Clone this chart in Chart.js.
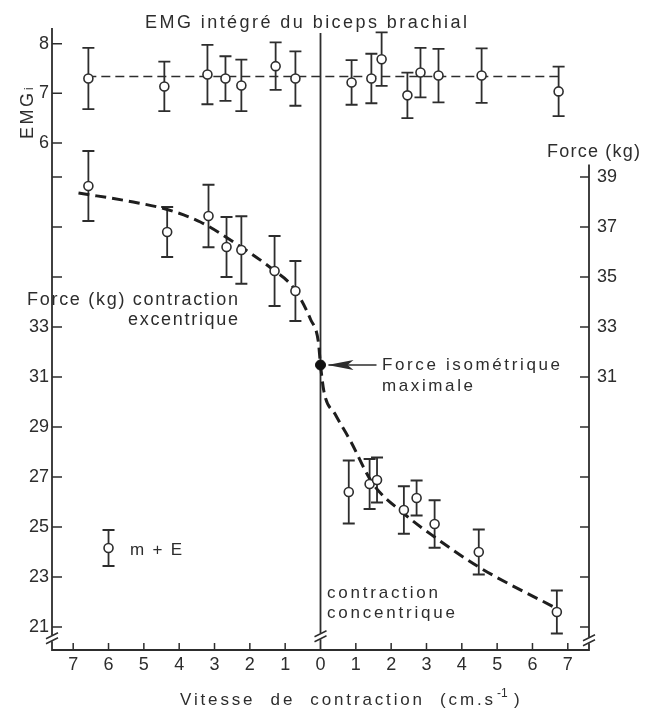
<!DOCTYPE html>
<html lang="fr">
<head>
<meta charset="utf-8">
<title>EMG intégré du biceps brachial</title>
<script src="https://cdn.jsdelivr.net/npm/chart.js@4.4.1/dist/chart.umd.min.js"></script>
<style>
  html, body { margin: 0; padding: 0; background: #fff; }
  #graphe { display: block; }
</style>
</head>
<body>
<canvas id="graphe" width="649" height="711"></canvas>
<script>
// vitesses : negatif = contraction excentrique, positif = concentrique
const emgVitesse = [-6.57, -4.42, -3.2, -2.69, -2.24, -1.27, -0.71, 0.88, 1.44, 1.73, 2.46, 2.83, 3.34, 4.56, 6.74];
const emgMoyen   = [7.30, 7.14, 7.38, 7.30, 7.16, 7.55, 7.30, 7.22, 7.30, 7.69, 6.96, 7.42, 7.36, 7.36, 7.04];
const emgErreur  = [0.62, 0.50, 0.60, 0.45, 0.52, 0.48, 0.55, 0.45, 0.50, 0.54, 0.46, 0.50, 0.54, 0.55, 0.50];
const emgDroiteX = [-6.6, 6.75];
const emgDroiteY = [7.34, 7.34];

const forceVitesse = [-6.57, -4.34, -3.17, -2.66, -2.24, -1.3, -0.71, 0.8, 1.39, 1.6, 2.36, 2.72, 3.23, 4.48, 6.69];
const forceMoyenne = [38.64, 36.8, 37.44, 36.2, 36.08, 35.24, 34.44, 26.4, 26.72, 26.88, 25.68, 26.16, 25.12, 24.0, 21.6];
const forceErreur  = [1.4, 1.0, 1.25, 1.2, 1.35, 1.4, 1.2, 1.26, 1.0, 0.9, 0.95, 0.7, 0.95, 0.9, 0.86];

const isoVitesse = [0];
const isoForce = [31.48];

// courbe tracee a la main sur la figure
const courbeX = [-6.85, -5.3, -4.34, -3.4, -2.46, -1.33, -0.76, -0.28, -0.06, 0, 0.1, 0.42, 0.85, 1.47, 2.35, 3.23, 4.48, 6.6];
const courbeY = [38.36, 38.0, 37.7, 37.2, 36.4, 35.28, 34.56, 33.3, 32.4, 31.48, 30.4, 29.5, 28.44, 26.76, 25.55, 24.6, 23.4, 21.8];

const legendeX = [-6];
const legendeY = [24.16];
const legendeErreur = [0.72];

const vitesseTicks = [-7, -6, -5, -4, -3, -2, -1, 0, 1, 2, 3, 4, 5, 6, 7];
const forceTicks = [21, 23, 25, 27, 29, 31, 33, 35, 37, 39];
const forceGaucheLabels = [21, 23, 25, 27, 29, 31, 33];
const forceDroiteLabels = [31, 33, 35, 37, 39];
const emgTicks = [6, 7, 8];

const forceMin = 20.08, forceMax = 44.96;
const emgMin = -4.24, emgMax = 8.32;

const encre = '#2d2d2d';
const police = '"Liberation Sans", Arial, Helvetica, sans-serif';

const points = (xs, ys) => xs.map((x, i) => ({ x, y: ys[i] }));
const emgEnForce = e => forceMin + (e - emgMin) * (forceMax - forceMin) / (emgMax - emgMin);

function texte(ctx, str, x, y, size, largeur) {
  ctx.font = size + 'px ' + police;
  if ('letterSpacing' in ctx) ctx.letterSpacing = '0px';
  let ls = 0;
  if (largeur && str.length > 1) ls = (largeur - ctx.measureText(str).width) / (str.length - 1);
  if ('letterSpacing' in ctx) {
    ctx.letterSpacing = ls + 'px';
    ctx.fillText(str, x, y);
    ctx.letterSpacing = '0px';
  } else {
    let cx = x;
    for (const c of str) { ctx.fillText(c, cx, y); cx += ctx.measureText(c).width + ls; }
  }
}

function cassure(ctx, x, y) {
  ctx.save();
  ctx.fillStyle = '#fff';
  ctx.fillRect(x - 3, y - 3, 6, 6);
  ctx.strokeStyle = encre;
  ctx.lineWidth = 1.4;
  [-2.5, 2.5].forEach(d => {
    ctx.beginPath();
    ctx.moveTo(x - 6, y + d + 3);
    ctx.lineTo(x + 6, y + d - 3);
    ctx.stroke();
  });
  ctx.restore();
}

const barresErreur = {
  id: 'barresErreur',
  beforeDatasetsDraw(chart) {
    const ctx = chart.ctx;
    ctx.save();
    ctx.strokeStyle = encre;
    ctx.lineWidth = 1.8;
    chart.data.datasets.forEach((ds, i) => {
      if (!ds.erreurs) return;
      const meta = chart.getDatasetMeta(i);
      const ys = chart.scales[meta.yAxisID];
      meta.data.forEach((el, j) => {
        const v = ds.data[j].y, e = ds.erreurs[j];
        const y1 = ys.getPixelForValue(v + e), y2 = ys.getPixelForValue(v - e);
        ctx.beginPath();
        ctx.moveTo(el.x, y1); ctx.lineTo(el.x, y2);
        ctx.moveTo(el.x - 6, y1); ctx.lineTo(el.x + 6, y1);
        ctx.moveTo(el.x - 6, y2); ctx.lineTo(el.x + 6, y2);
        ctx.stroke();
      });
    });
    ctx.restore();
  }
};

const axes = {
  id: 'axes',
  beforeDatasetsDraw(chart) {
    const { ctx, chartArea: a, scales } = chart;
    const xs = scales.x, yg = scales.y, yd = scales.yR;
    const x0 = xs.getPixelForValue(0);
    const yCasse = yg.getPixelForValue(20.55);
    ctx.save();
    ctx.strokeStyle = encre;
    ctx.lineWidth = 1.8;
    ctx.beginPath();
    ctx.moveTo(a.left, a.top); ctx.lineTo(a.left, a.bottom);
    ctx.lineTo(a.right, a.bottom);
    ctx.lineTo(a.right, yd.getPixelForValue(39.5));
    ctx.moveTo(x0, a.top + 5); ctx.lineTo(x0, a.bottom);
    ctx.stroke();

    ctx.lineWidth = 1.5;
    ctx.beginPath();
    yg.ticks.forEach(t => {
      const y = yg.getPixelForValue(t.value);
      ctx.moveTo(a.left, y); ctx.lineTo(a.left + 10, y);
    });
    yd.ticks.forEach(t => {
      const y = yd.getPixelForValue(t.value);
      ctx.moveTo(a.right, y); ctx.lineTo(a.right - 9, y);
    });
    xs.ticks.forEach(t => {
      if (t.value === 0) return;
      const x = xs.getPixelForValue(t.value);
      ctx.moveTo(x, a.bottom); ctx.lineTo(x, a.bottom - 7);
    });
    ctx.stroke();
    ctx.restore();

    cassure(ctx, a.left, yCasse);
    cassure(ctx, x0, yCasse - 2);
    cassure(ctx, a.right, yCasse + 2);
  }
};

const annotations = {
  id: 'annotations',
  afterDraw(chart) {
    const { ctx, scales } = chart;
    ctx.save();
    ctx.fillStyle = encre;
    ctx.textBaseline = 'alphabetic';
    ctx.textAlign = 'left';

    texte(ctx, 'EMG intégré du biceps brachial', 145, 28, 18, 322);
    texte(ctx, 'Force (kg)', 547, 157, 18, 93);
    texte(ctx, 'Force (kg) contraction', 27, 305, 18, 211);
    texte(ctx, 'excentrique', 128, 325, 18, 110);
    texte(ctx, 'Force isométrique', 382, 370, 17, 178);
    texte(ctx, 'maximale', 382, 391, 17, 91);
    texte(ctx, 'contraction', 327, 598, 17, 111);
    texte(ctx, 'concentrique', 327, 618, 17, 128);
    texte(ctx, 'm + E', 130, 555, 17, 52);

    texte(ctx, 'Vitesse  de  contraction  (cm.s', 180, 705, 17, 313);
    texte(ctx, '-1', 497, 697, 12);
    texte(ctx, ')', 514, 705, 17);

    // EMGi vertical
    ctx.save();
    ctx.translate(33, 139);
    ctx.rotate(-Math.PI / 2);
    texte(ctx, 'EMG', 0, 0, 18, 46);
    texte(ctx, 'i', 49, 0, 12);
    ctx.restore();

    // fleche vers la force isometrique
    const px = scales.x.getPixelForValue(isoVitesse[0]);
    const py = scales.y.getPixelForValue(isoForce[0]);
    ctx.strokeStyle = encre;
    ctx.lineWidth = 1.5;
    ctx.beginPath();
    ctx.moveTo(px + 8, py); ctx.lineTo(px + 56, py);
    ctx.stroke();
    ctx.beginPath();
    ctx.moveTo(px + 7, py);
    ctx.lineTo(px + 33, py - 5);
    ctx.lineTo(px + 27, py);
    ctx.lineTo(px + 33, py + 5);
    ctx.closePath();
    ctx.fill();
    ctx.restore();
  }
};

const ptsOuverts = {
  showLine: false,
  pointRadius: 4.5,
  pointBackgroundColor: '#fff',
  pointBorderColor: encre,
  pointBorderWidth: 1.6
};

const sansGrille = { display: false, drawTicks: false };

new Chart(document.getElementById('graphe'), {
  type: 'scatter',
  data: {
    datasets: [
      { label: 'EMG', data: points(emgVitesse, emgMoyen), erreurs: emgErreur, yAxisID: 'yE', ...ptsOuverts },
      { label: 'Force', data: points(forceVitesse, forceMoyenne), erreurs: forceErreur, yAxisID: 'y', ...ptsOuverts },
      { label: 'm + E', data: points(legendeX, legendeY), erreurs: legendeErreur, yAxisID: 'y', ...ptsOuverts },
      { label: 'Force isométrique maximale', data: points(isoVitesse, isoForce), yAxisID: 'y', showLine: false,
        pointRadius: 5, pointBackgroundColor: '#111', pointBorderColor: '#111' },
      { label: 'EMG moyen', data: points(emgDroiteX, emgDroiteY), yAxisID: 'yE', showLine: true,
        borderColor: encre, borderWidth: 1.6, borderDash: [9, 5], pointRadius: 0 },
      { label: 'Force-vitesse', data: points(courbeX, courbeY), yAxisID: 'y', showLine: true,
        borderColor: '#1e1e1e', borderWidth: 3, borderDash: [11, 6], pointRadius: 0, cubicInterpolationMode: 'monotone' }
    ]
  },
  options: {
    responsive: false,
    animation: false,
    devicePixelRatio: 1,
    layout: { padding: { top: 28, left: 0, right: 0, bottom: 0 } },
    plugins: { legend: { display: false }, tooltip: { enabled: false }, title: { display: false } },
    scales: {
      x: {
        type: 'linear', min: -7.6, max: 7.6,
        afterBuildTicks: s => { s.ticks = vitesseTicks.map(v => ({ value: v })); },
        afterFit: s => { s.height = 61; },
        grid: sansGrille, border: { display: false },
        ticks: { color: encre, font: { size: 18, family: police }, padding: 4, autoSkip: false, maxRotation: 0,
                 callback: v => String(Math.abs(v)) }
      },
      y: {
        position: 'left', min: forceMin, max: forceMax,
        afterBuildTicks: s => {
          const f = forceTicks.map(v => ({ value: v, lbl: forceGaucheLabels.includes(v) ? String(v) : '' }));
          const e = emgTicks.map(v => ({ value: emgEnForce(v), lbl: String(v) }));
          s.ticks = f.concat(e);
        },
        afterFit: s => { s.width = 52; },
        grid: sansGrille, border: { display: false },
        ticks: { color: encre, font: { size: 18, family: police }, padding: 3, autoSkip: false,
                 callback: (v, i, t) => t[i].lbl }
      },
      yR: {
        position: 'right', min: forceMin, max: forceMax,
        afterBuildTicks: s => { s.ticks = forceTicks.map(v => ({ value: v })); },
        afterFit: s => { s.width = 60; },
        grid: sansGrille, border: { display: false },
        ticks: { color: encre, font: { size: 18, family: police }, padding: 8, autoSkip: false,
                 callback: v => forceDroiteLabels.includes(v) ? String(v) : '' }
      },
      yE: { display: false, min: emgMin, max: emgMax }
    }
  },
  plugins: [axes, barresErreur, annotations]
});
</script>
</body>
</html>
